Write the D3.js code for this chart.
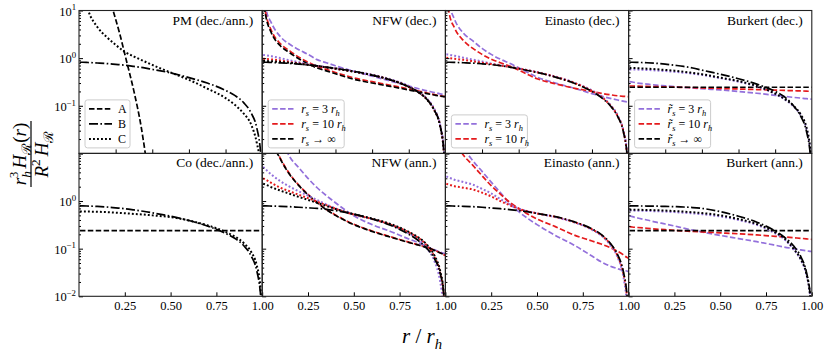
<!DOCTYPE html>
<html>
<head>
<meta charset="utf-8">
<script src="https://cdn.jsdelivr.net/npm/d3@7"></script>
<style>
  body { margin: 0; background: #fff; }
  svg text { font-family: "Liberation Serif", "Times New Roman", Times, "Nimbus Roman", serif; fill: #000; }
</style>
</head>
<body>
<svg id="chart" width="830" height="354"></svg>
<script>
// radius grid shared by most curves (r / r_h)
const rGrid = [0.005,0.02,0.05,0.1,0.15,0.2,0.25,0.3,0.35,0.4,0.5,0.6,0.7,0.8,0.85,0.9,0.94,0.97,0.99,1.0];

// PM (dec./ann.)
const pmA_r = [0.15,0.186,0.22,0.26,0.30,0.34,0.37];
const pmA = [28,10,3.5,0.85,0.2,0.035,0.006];
const pmB = [0.82,0.82,0.81,0.79,0.77,0.74,0.71,0.67,0.63,0.58,0.49,0.39,0.30,0.21,0.165,0.115,0.07,0.035,0.012,0.004];
const pmC = [40,25,10,4.5,2.8,1.9,1.35,1.08,0.88,0.72,0.5,0.35,0.23,0.145,0.105,0.068,0.04,0.017,0.006,0.002];

// Co (dec./ann.)
const coA = [0.24,0.24,0.24,0.24,0.24,0.24,0.24,0.24,0.24,0.24,0.24,0.24,0.24,0.24,0.24,0.24,0.24,0.24,0.24,0.24];
const coB = [0.79,0.79,0.785,0.77,0.75,0.72,0.69,0.65,0.61,0.565,0.48,0.39,0.30,0.21,0.165,0.115,0.07,0.035,0.012,0.004];
const coC = [0.6,0.6,0.6,0.595,0.585,0.57,0.555,0.535,0.52,0.5,0.46,0.39,0.31,0.225,0.18,0.13,0.085,0.045,0.016,0.004];

// NFW (dec.)
const nfwDecA3 = [30,11,5.5,2.8,1.95,1.5,1.2,0.93,0.8,0.69,0.53,0.42,0.33,0.26,0.23,0.205,0.19,0.178,0.172,0.17];
const nfwDecA10 = [20,8.5,3.8,2.0,1.42,1.05,0.82,0.67,0.58,0.5,0.385,0.32,0.27,0.225,0.205,0.185,0.172,0.162,0.157,0.155];
const nfwDecAInf = [18,7.5,3.4,1.8,1.3,0.97,0.76,0.62,0.54,0.47,0.36,0.3,0.255,0.215,0.197,0.18,0.168,0.16,0.156,0.155];
const nfwDecB = [0.82,0.82,0.81,0.795,0.775,0.75,0.72,0.69,0.65,0.61,0.53,0.44,0.35,0.25,0.195,0.135,0.08,0.04,0.013,0.004];
const nfwDecC3 = [1.17,1.15,1.1,1.0,0.9,0.82,0.75,0.69,0.65,0.61,0.53,0.45,0.36,0.26,0.2,0.14,0.085,0.042,0.014,0.004];
const nfwDecC10 = [0.97,0.96,0.94,0.89,0.83,0.78,0.73,0.68,0.64,0.6,0.52,0.44,0.35,0.25,0.195,0.135,0.08,0.04,0.013,0.004];
const nfwDecCInf = [0.88,0.87,0.86,0.83,0.8,0.76,0.72,0.68,0.64,0.6,0.52,0.44,0.35,0.25,0.195,0.135,0.08,0.04,0.013,0.004];

// Einasto (dec.)
const einDecA3 = [40,15,6.5,3.3,2.3,1.6,1.2,0.95,0.78,0.63,0.4,0.3,0.235,0.18,0.16,0.143,0.132,0.125,0.121,0.12];
const einDecA10 = [25,9,4.3,2.3,1.6,1.2,0.95,0.8,0.68,0.56,0.37,0.29,0.235,0.2,0.183,0.17,0.162,0.158,0.156,0.155];
const einDecB = [0.82,0.82,0.815,0.8,0.785,0.76,0.73,0.695,0.65,0.6,0.5,0.4,0.3,0.2,0.15,0.1,0.06,0.03,0.011,0.004];
const einDecC3 = [1.2,1.18,1.12,1.02,0.93,0.85,0.77,0.71,0.66,0.61,0.51,0.41,0.31,0.21,0.16,0.105,0.063,0.032,0.012,0.004];
const einDecC10 = [1.02,1.0,0.97,0.92,0.86,0.8,0.75,0.7,0.655,0.605,0.505,0.405,0.305,0.205,0.155,0.102,0.061,0.031,0.011,0.004];

// Burkert (dec.)
const burDecA3 = [0.32,0.315,0.3,0.285,0.272,0.262,0.252,0.244,0.236,0.228,0.215,0.2,0.183,0.166,0.158,0.15,0.145,0.141,0.139,0.138];
const burDecA10 = [0.26,0.26,0.258,0.255,0.252,0.249,0.246,0.243,0.24,0.237,0.231,0.225,0.219,0.213,0.21,0.207,0.205,0.203,0.201,0.2];
const burDecAInf = [0.245,0.245,0.245,0.245,0.245,0.245,0.245,0.245,0.245,0.245,0.245,0.245,0.245,0.245,0.245,0.245,0.245,0.245,0.245,0.245];
const burDecB = [0.82,0.82,0.815,0.8,0.78,0.75,0.71,0.67,0.62,0.56,0.46,0.37,0.285,0.2,0.155,0.1,0.06,0.03,0.011,0.004];
const burDecC3 = [0.58,0.58,0.575,0.565,0.552,0.535,0.515,0.495,0.47,0.445,0.38,0.32,0.255,0.178,0.138,0.097,0.063,0.034,0.013,0.005];
const burDecCInf = [0.62,0.62,0.615,0.6,0.585,0.565,0.545,0.52,0.49,0.46,0.39,0.33,0.26,0.18,0.14,0.1,0.065,0.036,0.014,0.005];

// NFW (ann.)
const nfwAnnA3 = [300,150,60,22,8.5,5.0,3.0,1.9,1.3,0.92,0.49,0.32,0.23,0.16,0.135,0.11,0.095,0.085,0.08,0.078];
const nfwAnnA10 = [110,62,21,7.8,3.7,2.15,1.38,0.94,0.67,0.51,0.325,0.235,0.178,0.137,0.121,0.106,0.093,0.082,0.075,0.072];
const nfwAnnAInf = [100,60,20,7.5,3.6,2.1,1.35,0.92,0.66,0.5,0.32,0.23,0.175,0.135,0.12,0.105,0.092,0.082,0.076,0.074];
const nfwAnnB = [0.79,0.79,0.785,0.775,0.76,0.74,0.72,0.7,0.67,0.63,0.53,0.42,0.31,0.2,0.15,0.1,0.062,0.032,0.012,0.004];
const nfwAnnC3 = [5.2,4.6,3.6,2.6,2.0,1.6,1.3,1.05,0.85,0.7,0.52,0.42,0.32,0.21,0.16,0.1,0.055,0.022,0.006,0.002];
const nfwAnnC10 = [3.0,2.8,2.4,1.9,1.6,1.35,1.15,0.97,0.82,0.69,0.52,0.42,0.32,0.22,0.17,0.115,0.068,0.033,0.012,0.004];
const nfwAnnCInf = [2.3,2.2,1.95,1.65,1.42,1.22,1.06,0.92,0.79,0.68,0.53,0.43,0.33,0.225,0.175,0.12,0.072,0.036,0.013,0.004];

// Einasto (ann.)
const einAnnA3 = [150,80,35,13,7,4.2,2.5,1.5,0.9,0.6,0.32,0.19,0.12,0.07,0.053,0.043,0.038,0.035,0.034,0.033];
const einAnnA10 = [60,35,18,9,5.6,3.4,2.1,1.4,0.95,0.7,0.42,0.29,0.195,0.145,0.125,0.105,0.088,0.075,0.066,0.063];
const einAnnB = [0.79,0.79,0.785,0.775,0.76,0.74,0.715,0.69,0.66,0.63,0.55,0.47,0.37,0.26,0.2,0.13,0.075,0.035,0.012,0.004];
const einAnnC3 = [3.3,3.1,2.8,2.5,2.2,1.8,1.45,1.1,0.85,0.7,0.55,0.46,0.36,0.25,0.19,0.12,0.066,0.028,0.008,0.003];
const einAnnC10 = [2.3,2.2,2.05,1.9,1.75,1.5,1.25,1.0,0.82,0.69,0.55,0.465,0.365,0.255,0.195,0.125,0.07,0.032,0.011,0.004];

// Burkert (ann.)
const burAnnA3 = [0.49,0.47,0.44,0.4,0.36,0.33,0.3,0.27,0.245,0.225,0.19,0.163,0.14,0.118,0.108,0.1,0.094,0.09,0.088,0.087];
const burAnnA10 = [0.29,0.285,0.278,0.268,0.258,0.25,0.243,0.236,0.23,0.225,0.215,0.205,0.194,0.182,0.177,0.17,0.165,0.161,0.158,0.157];
const burAnnAInf = [0.24,0.24,0.24,0.24,0.24,0.24,0.24,0.24,0.24,0.24,0.24,0.24,0.24,0.24,0.24,0.24,0.24,0.24,0.24,0.24];
const burAnnB = [0.79,0.79,0.788,0.785,0.78,0.772,0.762,0.75,0.73,0.7,0.6,0.48,0.36,0.235,0.175,0.115,0.068,0.033,0.012,0.004];
const burAnnC3 = [0.63,0.63,0.625,0.62,0.61,0.6,0.585,0.57,0.55,0.53,0.475,0.4,0.315,0.21,0.158,0.097,0.058,0.029,0.011,0.004];
const burAnnCInf = [0.66,0.66,0.655,0.65,0.64,0.63,0.615,0.6,0.58,0.56,0.5,0.42,0.33,0.22,0.165,0.1,0.06,0.03,0.011,0.004];

const yMajor = [0.01, 0.1, 1, 10];
const xTicksTop = [0.2, 0.4, 0.6, 0.8];
const xTicksBottom = [0.25, 0.5, 0.75, 1.0];

const colors = { p3: "#9370db", p10: "#e41a1c", inf: "#000" };
const dashes = { A: "5.5,2.4", B: "9,2.4,1.6,2.4", C: "1.9,2.1" };
const serif = '"Liberation Serif", "Times New Roman", Times, serif';

// [values, colour, style, r values (default rGrid)]
const panels = [
  { title: "PM (dec./ann.)", row: 0, col: 0, legend: "abc",
    lines: [[pmA, "inf", "A", pmA_r], [pmB, "inf", "B"], [pmC, "inf", "C"]] },
  { title: "NFW (dec.)", row: 0, col: 1, legend: "rs3",
    lines: [[nfwDecA3, "p3", "A"], [nfwDecA10, "p10", "A"], [nfwDecAInf, "inf", "A"],
            [nfwDecC3, "p3", "C"], [nfwDecC10, "p10", "C"], [nfwDecCInf, "inf", "C"], [nfwDecB, "inf", "B"]] },
  { title: "Einasto (dec.)", row: 0, col: 2, legend: "rs2",
    lines: [[einDecA3, "p3", "A"], [einDecA10, "p10", "A"],
            [einDecC3, "p3", "C"], [einDecC10, "p10", "C"], [einDecB, "inf", "B"]] },
  { title: "Burkert (dec.)", row: 0, col: 3, legend: "rt3",
    lines: [[burDecA3, "p3", "A"], [burDecA10, "p10", "A"], [burDecAInf, "inf", "A"],
            [burDecC3, "p3", "C"], [burDecCInf, "inf", "C"], [burDecB, "inf", "B"]] },
  { title: "Co (dec./ann.)", row: 1, col: 0,
    lines: [[coA, "inf", "A"], [coB, "inf", "B"], [coC, "inf", "C"]] },
  { title: "NFW (ann.)", row: 1, col: 1,
    lines: [[nfwAnnA3, "p3", "A"], [nfwAnnA10, "p10", "A"], [nfwAnnAInf, "inf", "A"],
            [nfwAnnC3, "p3", "C"], [nfwAnnC10, "p10", "C"], [nfwAnnCInf, "inf", "C"], [nfwAnnB, "inf", "B"]] },
  { title: "Einasto (ann.)", row: 1, col: 2,
    lines: [[einAnnA3, "p3", "A"], [einAnnA10, "p10", "A"],
            [einAnnC3, "p3", "C"], [einAnnC10, "p10", "C"], [einAnnB, "inf", "B"]] },
  { title: "Burkert (ann.)", row: 1, col: 3,
    lines: [[burAnnA3, "p3", "A"], [burAnnA10, "p10", "A"], [burAnnAInf, "inf", "A"],
            [burAnnC3, "p3", "C"], [burAnnCInf, "inf", "C"], [burAnnB, "inf", "B"]] }
];

const svg = d3.select("#chart");
const plotLeft = 79, plotTop = 10.5, pw = 183.2, ph = 142.9;

// text with italic parts, sub- and superscripts
function rich(text, parts, fs) {
  let shift = 0;
  text.attr("font-family", serif);
  parts.forEach(p => {
    const target = p.s === "sub" ? fs * 0.28 : p.s === "sup" ? -fs * 0.42 : 0;
    const ts = text.append("tspan").text(p.t)
      .attr("dy", target - shift)
      .style("font-size", (p.s ? fs * 0.7 : fs) + "px")
      .style("font-style", p.i ? "italic" : "normal");
    if (p.dx) ts.attr("dx", p.dx);
    shift = target;
  });
}

const legendRows = {
  abc: [["inf", "A", [{t: "A"}]], ["inf", "B", [{t: "B"}]], ["inf", "C", [{t: "C"}]]],
  rs3: [["p3", "A", [{t: "r", i: 1}, {t: "s", i: 1, s: "sub"}, {t: " = 3 "}, {t: "r", i: 1}, {t: "h", i: 1, s: "sub"}]],
        ["p10", "A", [{t: "r", i: 1}, {t: "s", i: 1, s: "sub"}, {t: " = 10 "}, {t: "r", i: 1}, {t: "h", i: 1, s: "sub"}]],
        ["inf", "A", [{t: "r", i: 1}, {t: "s", i: 1, s: "sub"}, {t: " → ∞"}]]],
  rs2: [["p3", "A", [{t: "r", i: 1}, {t: "s", i: 1, s: "sub"}, {t: " = 3 "}, {t: "r", i: 1}, {t: "h", i: 1, s: "sub"}]],
        ["p10", "A", [{t: "r", i: 1}, {t: "s", i: 1, s: "sub"}, {t: " = 10 "}, {t: "r", i: 1}, {t: "h", i: 1, s: "sub"}]]],
  rt3: [["p3", "A", [{t: "r\u0303", i: 1}, {t: "s", i: 1, s: "sub"}, {t: " = 3 "}, {t: "r", i: 1}, {t: "h", i: 1, s: "sub"}]],
        ["p10", "A", [{t: "r\u0303", i: 1}, {t: "s", i: 1, s: "sub"}, {t: " = 10 "}, {t: "r", i: 1}, {t: "h", i: 1, s: "sub"}]],
        ["inf", "A", [{t: "r\u0303", i: 1}, {t: "s", i: 1, s: "sub"}, {t: " → ∞"}]]]
};

panels.forEach((p, k) => {
  const x0 = plotLeft + p.col * pw, y0 = plotTop + p.row * ph;
  const x = d3.scaleLinear().domain([0, 1]).range([x0, x0 + pw]);
  const y = d3.scaleLog().domain([0.01, 10]).range([y0 + ph, y0]);
  const g = svg.append("g");

  g.append("clipPath").attr("id", "clip" + k)
    .append("rect").attr("x", x0).attr("y", y0).attr("width", pw).attr("height", ph);

  const line = d3.line()
    .x(d => x(d[0]))
    .y(d => y(Math.max(d[1], 1e-3)))
    .curve(d3.curveMonotoneX);

  const lg = g.append("g").attr("clip-path", `url(#clip${k})`);
  p.lines.forEach(([vals, c, st, rs]) => {
    const pts = (rs || rGrid).map((r, i) => [r, vals[i]]);
    lg.append("path").attr("d", line(pts))
      .attr("fill", "none")
      .attr("stroke", colors[c])
      .attr("stroke-width", st === "C" ? 2 : 1.7)
      .attr("stroke-dasharray", dashes[st]);
  });

  // y ticks (inward)
  const minor = [];
  [0.01, 0.1, 1].forEach(d => { for (let m = 2; m <= 9; m++) minor.push(d * m); });
  g.append("g").attr("transform", `translate(${x0},0)`)
    .call(d3.axisLeft(y).tickValues(yMajor).tickSizeInner(-4).tickSizeOuter(0).tickFormat(""))
    .call(a => a.select(".domain").remove());
  g.append("g").attr("transform", `translate(${x0},0)`)
    .call(d3.axisLeft(y).tickValues(minor).tickSizeInner(-2).tickSizeOuter(0).tickFormat(""))
    .call(a => a.select(".domain").remove());

  // x ticks (inward)
  const xa = g.append("g").attr("transform", `translate(0,${y0 + ph})`)
    .call(d3.axisBottom(x).tickValues(p.row === 0 ? xTicksTop : xTicksBottom)
      .tickSizeInner(-4).tickSizeOuter(0).tickPadding(5)
      .tickFormat(p.row === 0 ? "" : d3.format(".2f")));
  xa.select(".domain").remove();
  xa.attr("font-family", serif).attr("font-size", 12.5);

  // frame
  g.append("rect").attr("x", x0).attr("y", y0).attr("width", pw).attr("height", ph)
    .attr("fill", "none").attr("stroke", "#222").attr("stroke-width", 1.1);

  // y tick labels on first column
  if (p.col === 0) {
    const labs = p.row === 0 ? [[10, "1"], [1, "0"], [0.1, "−1"]] : [[1, "0"], [0.1, "−1"], [0.01, "−2"]];
    labs.forEach(([v, e]) => {
      const t = g.append("text").attr("x", 76).attr("y", y(v) + 5).attr("text-anchor", "end");
      rich(t, [{t: "10"}, {t: e, s: "sup"}], 12.5);
    });
  }

  // panel title
  g.append("text").attr("x", x0 + pw - 9).attr("y", y0 + 14)
    .attr("text-anchor", "end").attr("font-family", serif)
    .style("font-size", "13.5px").text(p.title);

  // legend
  if (p.legend) {
    const rows = legendRows[p.legend];
    const bw = p.legend === "abc" ? 45 : 76;
    const bh = rows.length * 15 + 3;
    const bx = x0 + 6, by = y0 + ph - 5.5 - bh;
    g.append("rect").attr("x", bx).attr("y", by).attr("width", bw).attr("height", bh)
      .attr("rx", 2.5).attr("fill", "#fff").attr("fill-opacity", 0.85)
      .attr("stroke", "#ccc").attr("stroke-width", 1);
    rows.forEach(([c, st, parts], i) => {
      const cy = by + 9 + i * 15;
      g.append("line").attr("x1", bx + 4).attr("x2", bx + 27).attr("y1", cy).attr("y2", cy)
        .attr("stroke", colors[c]).attr("stroke-width", st === "C" ? 2 : 1.7)
        .attr("stroke-dasharray", dashes[st]);
      const t = g.append("text").attr("x", bx + 33).attr("y", cy + 4);
      rich(t, parts, 12);
    });
  }
});

// axis titles
const xl = svg.append("text").attr("x", 422).attr("y", 343).attr("text-anchor", "middle");
rich(xl, [{t: "r", i: 1}, {t: " / "}, {t: "r", i: 1}, {t: "h", i: 1, s: "sub"}], 21);

const yl = svg.append("g").attr("transform", "translate(31,154) rotate(-90)");
yl.append("line").attr("x1", -33).attr("x2", 33).attr("y1", 0).attr("y2", 0)
  .attr("stroke", "#000").attr("stroke-width", 1.2);
const num = yl.append("text").attr("x", 0).attr("y", -5).attr("text-anchor", "middle");
rich(num, [{t: "r", i: 1}, {t: "h", i: 1, s: "sub"}, {t: "3", s: "sup", dx: -7},
           {t: "H", i: 1, dx: 3}, {t: "ℛ", s: "sub"}, {t: "("}, {t: "r", i: 1}, {t: ")"}], 19);
const den = yl.append("text").attr("x", 0).attr("y", 17).attr("text-anchor", "middle");
rich(den, [{t: "R", i: 1}, {t: "2", s: "sup"}, {t: "H", i: 1, dx: 3}, {t: "ℛ", s: "sub"}], 19);
</script>
</body>
</html>
